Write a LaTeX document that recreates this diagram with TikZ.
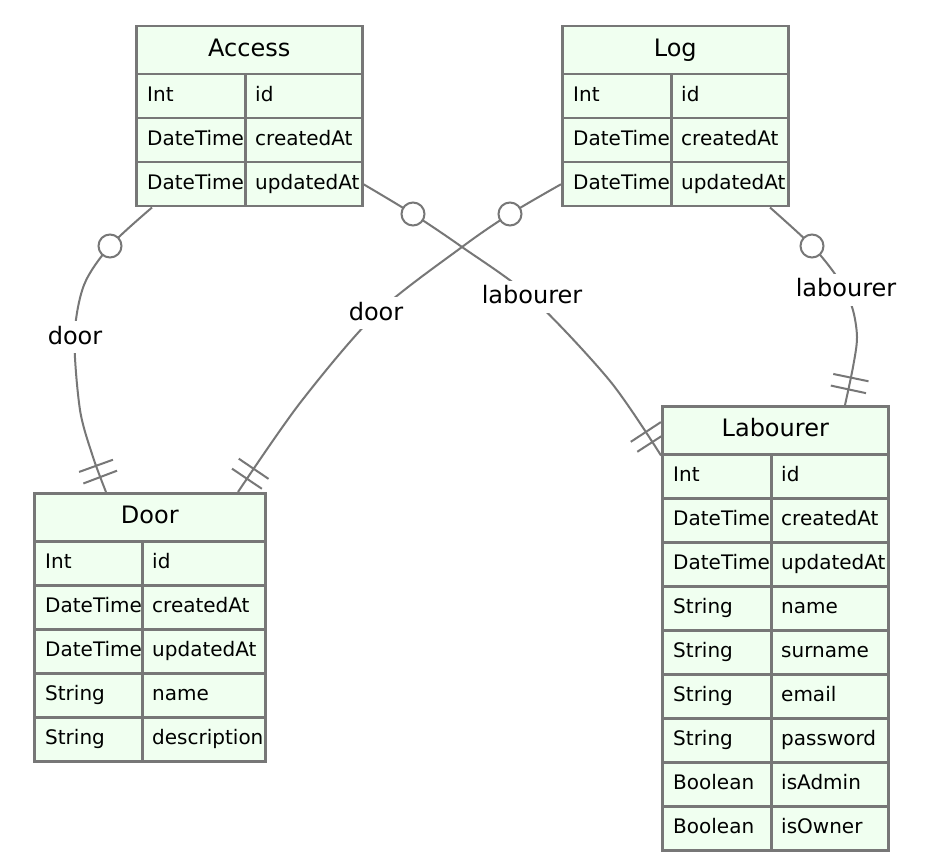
\documentclass[tikz,border=0pt]{standalone}
\usepackage{fontspec}
\setmainfont{DejaVu Sans}
\usetikzlibrary{decorations.markings}
\pgfdeclarelayer{bg}
\pgfsetlayers{bg,main}
\definecolor{erline}{HTML}{777777}
\definecolor{erfill}{HTML}{F0FFF0}
\tikzset{
  erbox/.style={draw=erline, line width=2.5pt, fill=erfill, rectangle, inner sep=0pt, anchor=north west},
  ertitle/.style={erbox, minimum height=48pt, text height=17pt, text depth=5pt, font=\fontsize{24}{28}\selectfont},
  ercell/.style={erbox, minimum height=44pt},
  ertext/.style={anchor=west, inner sep=0pt, text height=15pt, text depth=4pt, font=\fontsize{20}{24}\selectfont},
  rel/.style={draw=erline, line width=2pt},
  relend/.style={postaction={decorate, decoration={markings,
     mark=at position -16pt with {\draw[erline, line width=2pt] (0,-18pt) -- (0,18pt);},
     mark=at position -28pt with {\draw[erline, line width=2pt] (0,-18pt) -- (0,18pt);}}}},
  zeroring/.style={circle, draw=erline, line width=2pt, fill=white, minimum size=23pt, inner sep=0pt},
  rellabel/.style={fill=white, inner xsep=3pt, inner ysep=5pt, text height=18pt, text depth=4pt, font=\fontsize{24}{28}\selectfont},
}
\newcommand\erentity[7]{%
  \node[ertitle, minimum width=#4+#5] (#1) at (#2,#3) {#6};
  \foreach \ty/\fd [count=\i] in {#7} {
    \node[ercell, minimum width=#4] (#1-type-\i) at (#2, #3+4+44*\i) {};
    \node[ercell, minimum width=#5] (#1-field-\i) at (#2+#4, #3+4+44*\i) {};
    \node[ertext] (#1-tt-\i) at ([xshift=12pt]#1-type-\i.west) {\ty};
    \node[ertext] (#1-ft-\i) at ([xshift=11pt]#1-field-\i.west) {\fd};
  }
}
\begin{document}
\begin{tikzpicture}[x=1pt,y=-1pt]
\useasboundingbox (0,0) rectangle (928,866);
\erentity{access}{135}{25}{109}{117}{Access}{Int/id, DateTime/createdAt, DateTime/updatedAt}
\erentity{log}{561}{25}{109}{117}{Log}{Int/id, DateTime/createdAt, DateTime/updatedAt}
\erentity{door}{33}{492}{108}{123}{Door}{Int/id, DateTime/createdAt, DateTime/updatedAt, String/name, String/description}
\erentity{labourer}{661}{405}{109}{117}{Labourer}{Int/id, DateTime/createdAt, DateTime/updatedAt, String/name, String/surname, String/email, String/password, Boolean/isAdmin, Boolean/isOwner}
\begin{pgfonlayer}{bg}
  \fill[white] (0,0) rectangle (928,866);
  \coordinate (c1s) at ([xshift=17pt]access-type-3.south west);
  \coordinate (c1e) at ([xshift=73pt]door.north west);
  \coordinate (c2s) at (access-field-3.east);
  \coordinate (c2e) at (labourer.south west);
  \coordinate (c3s) at (log-type-3.west);
  \coordinate (c3e) at ([xshift=205pt]door.north west);
  \coordinate (c4s) at ([xshift=100pt]log-field-3.south west);
  \coordinate (c4e) at ([xshift=184pt]labourer.north west);
  \coordinate (r1) at (110,246);
  \coordinate (r2) at (413,214);
  \coordinate (r3) at (510,214);
  \coordinate (r4) at (812,246);
  \coordinate (l1) at (74.5,337);
  \coordinate (l2) at (532,298);
  \coordinate (l3) at (376,314);
  \coordinate (l4) at (845,291);
  \draw[rel, relend] plot[smooth] coordinates {(c1s) (r1) (84,285) (l1) (80,410) (93,457) (c1e)};
  \draw[rel, relend] plot[smooth] coordinates {(c2s) (r2) (462,247) (l2) (610,381) (c2e)};
  \draw[rel, relend] plot[smooth] coordinates {(c3s) (r3) (462,247) (l3) (300,403) (c3e)};
  \draw[rel, relend] plot[smooth] coordinates {(c4s) (r4) (837,277) (852,307) (857,337) (853,367) (c4e)};
  \node[zeroring] (ring1) at (r1) {};
  \node[zeroring] (ring2) at (r2) {};
  \node[zeroring] (ring3) at (r3) {};
  \node[zeroring] (ring4) at (r4) {};
  \node[rellabel] (lab1) at (75,337) {door};
  \node[rellabel] (lab2) at (532,297) {labourer};
  \node[rellabel] (lab3) at (376,313) {door};
  \node[rellabel] (lab4) at (846,290) {labourer};
\end{pgfonlayer}
\end{tikzpicture}
\end{document}
